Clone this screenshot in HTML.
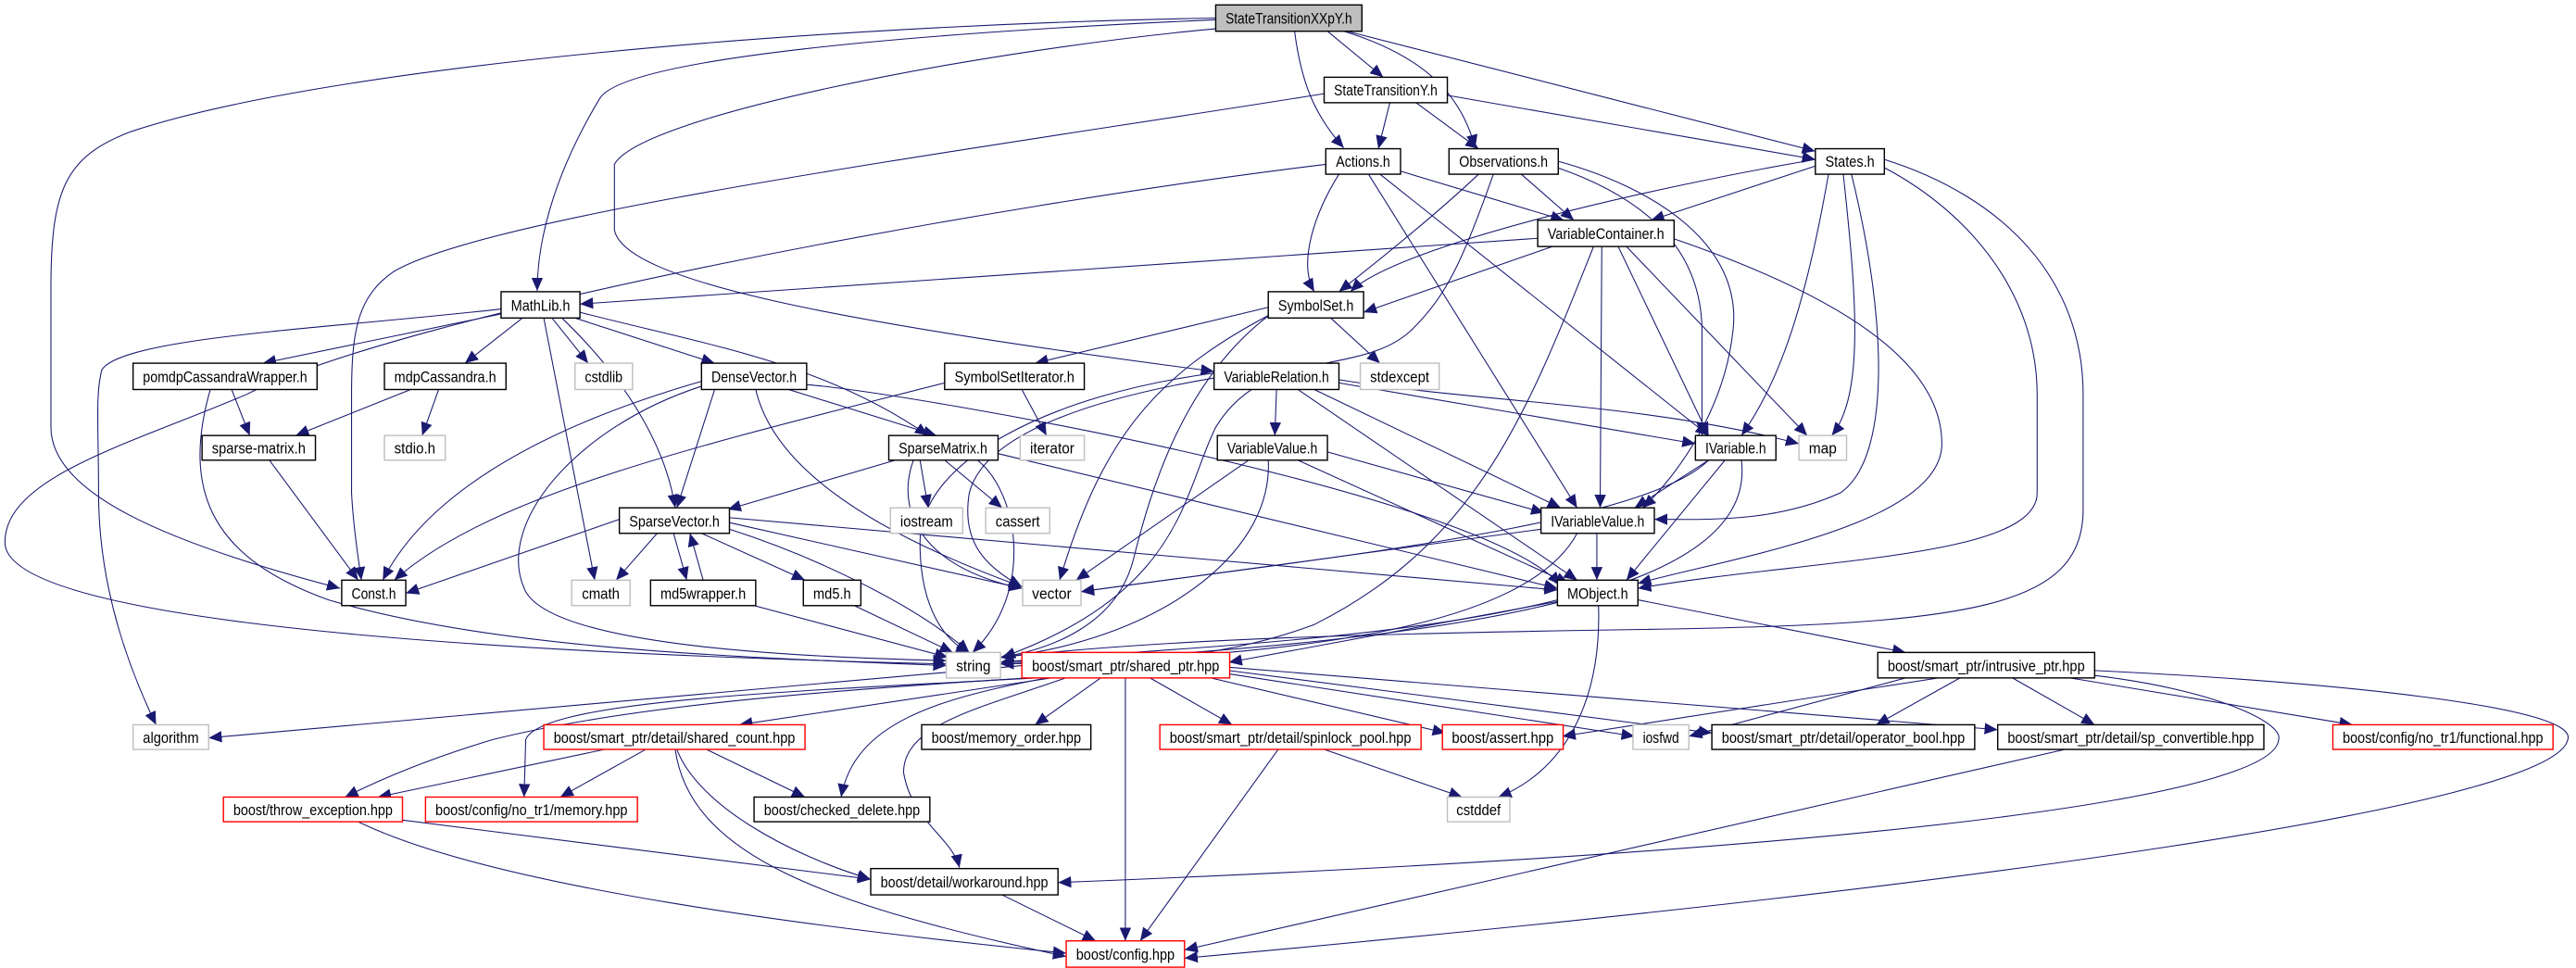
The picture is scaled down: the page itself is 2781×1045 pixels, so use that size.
<!DOCTYPE html>
<html><head><meta charset="utf-8"><style>
html,body{margin:0;padding:0;background:#fff;}
svg{display:block;}
text{font-family:"Liberation Sans",sans-serif;font-size:9.5px;fill:#000;}
</style></head><body>
<svg width="2781" height="1045" viewBox="0 0 1568 589" preserveAspectRatio="none" xmlns="http://www.w3.org/2000/svg">
<defs><marker id="a" markerUnits="userSpaceOnUse" markerWidth="8" markerHeight="7" refX="8" refY="3.5" orient="auto"><path d="M0,0 L8,3.5 L0,7 z" fill="#191970"/></marker></defs>
<rect width="1568" height="589" fill="#fff"/>
<g fill="none" stroke="#191970" stroke-width="0.6" marker-end="url(#a)">
<path d="M808,19 L842,47"/>
<path d="M788,19 C792,50 800,70 818,90"/>
<path d="M818,19 C870,35 890,60 898,90"/>
<path d="M820,19 L1105,92"/>
<path d="M740,12 C560,20 380,35 365,60 C335,110 327,150 327,177"/>
<path d="M740,11 C500,15 200,40 80,80 C40,95 31,115 31,175 L31,260 C31,300 100,330 207,358"/>
<path d="M745,17 C600,30 390,70 374,100 L374,140 C380,170 500,195 739,226"/>
<path d="M846,62.5 L839,90.5"/>
<path d="M862,62.5 L900,90.5"/>
<path d="M881,58 L1105,97"/>
<path d="M806,57 C600,90 300,130 240,165 C218,180 214,200 214,240 L214,300 C215,320 218,340 220,353"/>
<path d="M815,106 C800,130 790,160 800,177.5"/>
<path d="M852,104 L952,134"/>
<path d="M840,106 L1040,265"/>
<path d="M833,106 L960,309"/>
<path d="M807,100 C600,125 250,190 150,240 C80,270 3,290 3,330 C3,370 200,395 576,404"/>
<path d="M900,106 C880,125 850,150 815,177.5"/>
<path d="M926,106 L958,134"/>
<path d="M948,102 C1000,120 1035,150 1036,200 L1036,265"/>
<path d="M948,98 C1010,115 1060,150 1055,200 C1050,250 1020,290 1000,309"/>
<path d="M909,106 C890,160 880,180 860,200 C830,230 770,210 740,260 C720,300 720,360 610,400"/>
<path d="M1105,101 L1005,134"/>
<path d="M1105,97 C1000,115 850,150 822,177.5"/>
<path d="M1113,106 C1100,180 1085,230 1060,265"/>
<path d="M1122,106 C1130,180 1135,240 1115,265"/>
<path d="M1127,106 C1150,200 1150,280 1120,300 C1080,318 1040,316 1007,316"/>
<path d="M1147,102 C1200,130 1240,180 1240,240 L1240,300 C1240,340 1100,340 997,358"/>
<path d="M1147,97 C1220,120 1268,170 1268,240 L1268,310 C1268,370 1200,380 1000,383 C800,386 700,390 609,400"/>
<path d="M945,150 L830,190"/>
<path d="M985,150 L1040,265"/>
<path d="M990,150 L1100,265"/>
<path d="M975,150 L974,309"/>
<path d="M1018,145 C1120,180 1182,220 1182,270 C1182,320 1050,340 997,355"/>
<path d="M970,150 C930,250 900,330 800,380 C720,410 640,400 609,403"/>
<path d="M936,145 L353,185"/>
<path d="M310,190 L160,221"/>
<path d="M318,193.5 L283,221"/>
<path d="M336,193.5 L358,221"/>
<path d="M350,193.5 L435,221"/>
<path d="M353,190 C430,210 500,220 565,265"/>
<path d="M342,193.5 C380,230 405,270 411,309"/>
<path d="M331,193.5 L362,353"/>
<path d="M305,188 C200,200 75,205 62,225 C58,240 60,260 60,300 C60,360 80,410 95,441"/>
<path d="M772,187 L630,221"/>
<path d="M810,193.5 L840,221"/>
<path d="M772,192 C700,230 670,270 645,353"/>
<path d="M775,190 C720,230 700,300 690,340 C680,380 640,395 609,400"/>
<path d="M622,237 L637,265"/>
<path d="M575,233 C430,270 300,300 240,353"/>
<path d="M777,237 L776,265"/>
<path d="M815,233 L1032,270"/>
<path d="M800,237 L950,309"/>
<path d="M790,237 L960,353"/>
<path d="M815,231 C900,245 1000,245 1095,270"/>
<path d="M739,230 C680,240 600,260 590,300 C585,330 600,345 622,357"/>
<path d="M739,227 C640,240 560,280 560,330 C560,370 575,390 590,397"/>
<path d="M141,237 L152,265"/>
<path d="M128,237 C110,300 130,340 200,365 C300,395 450,400 576,405"/>
<path d="M250,237 L180,265"/>
<path d="M267,237 L257,265"/>
<path d="M164,280 L218,353"/>
<path d="M435,237 L412,309"/>
<path d="M480,237 L570,265"/>
<path d="M427,232 C330,260 260,300 233,353"/>
<path d="M460,237 C470,280 520,320 622,357"/>
<path d="M427,235 C350,260 300,320 320,360 C340,395 500,400 576,402"/>
<path d="M491,234 C560,240 900,300 950,356"/>
<path d="M545,280 L443,310"/>
<path d="M560,280 L565,309"/>
<path d="M575,280 L610,309"/>
<path d="M556,280 C545,310 560,345 622,358"/>
<path d="M595,280 C620,300 630,360 592,397"/>
<path d="M607.5,276 L948,358"/>
<path d="M808,275 L940,312"/>
<path d="M790,280 L955,355"/>
<path d="M760,280 L655,353"/>
<path d="M772,280 C775,340 700,390 609,400"/>
<path d="M1040,280 L995,309"/>
<path d="M1050,280 L990,353"/>
<path d="M1040,280 C1000,320 800,340 658,360"/>
<path d="M1060,280 C1070,360 900,390 609,404"/>
<path d="M377,316 L247,361"/>
<path d="M400,324.5 L375,353"/>
<path d="M410,324.5 L418,353"/>
<path d="M428,353 L420,324.5"/>
<path d="M427,324.5 L490,353"/>
<path d="M444,318 L622,358"/>
<path d="M444,322 C500,340 560,370 590,397"/>
<path d="M444,315 L948,359"/>
<path d="M459,368.5 L577,400"/>
<path d="M520,368.5 L580,397"/>
<path d="M972,324.5 L972,353"/>
<path d="M938,322 L658,360"/>
<path d="M960,324.5 C930,380 800,400 609,404"/>
<path d="M948,365 C850,390 700,395 609,403"/>
<path d="M948,366 L748,403"/>
<path d="M997,365 L1160,397"/>
<path d="M973,368.5 C975,430 950,470 912,485"/>
<path d="M622,405 L127,449"/>
<path d="M640,412.5 L450,441"/>
<path d="M635,412 C500,420 380,430 300,450 C260,462 230,475 210,485"/>
<path d="M640,412 C500,420 330,425 320,450 L319,485"/>
<path d="M670,412.5 L630,441"/>
<path d="M700,412.5 L750,441"/>
<path d="M737,412.5 L880,446"/>
<path d="M748,410 L995,448"/>
<path d="M748,408 L1042,446"/>
<path d="M748,406 L1216,444"/>
<path d="M640,412 C570,425 520,440 512,485"/>
<path d="M650,412 C600,430 550,440 550,470 C555,500 580,510 584,528"/>
<path d="M685,412.5 L685,572.5"/>
<path d="M778,456 L694,572.5"/>
<path d="M806,456 L890,485"/>
<path d="M1180,412.5 L951,448"/>
<path d="M1160,412.5 L1028,448"/>
<path d="M1193,412.5 L1142,441"/>
<path d="M1225,412.5 L1275,441"/>
<path d="M1260,412.5 L1432,441"/>
<path d="M1275,411 C1350,420 1390,440 1387,450 C1385,480 1200,515 644,537"/>
<path d="M1275,408 C1420,415 1570,430 1563,450 C1555,490 1200,540 721,583"/>
<path d="M1257,456 L721,578"/>
<path d="M368,456 L230,485"/>
<path d="M393,456 L341,485"/>
<path d="M430,456 L490,485"/>
<path d="M412,456 C425,490 480,520 530,535"/>
<path d="M411,456 C420,520 500,550 649,582"/>
<path d="M245,499 L530,535"/>
<path d="M218,500 C300,540 500,565 649,580"/>
<path d="M610,544.5 L667,572.5"/>
</g>
<g stroke-width="0.8">
<rect x="740" y="3" width="89" height="16" fill="#bfbfbf" stroke="#000"/>
<g fill="#fff" stroke="#000">
<rect x="806" y="47" width="75" height="15.5"/>
<rect x="807" y="90.5" width="45.5" height="15.5"/>
<rect x="882" y="90.5" width="66.5" height="15.5"/>
<rect x="1105" y="90.5" width="42" height="15.5"/>
<rect x="936" y="134" width="83" height="16"/>
<rect x="305" y="177.5" width="48" height="16"/>
<rect x="772" y="177.5" width="58" height="16"/>
<rect x="81" y="221" width="112" height="16"/>
<rect x="234" y="221" width="74" height="16"/>
<rect x="427" y="221" width="64" height="16"/>
<rect x="575" y="221" width="85" height="16"/>
<rect x="739" y="221" width="76" height="16"/>
<rect x="123" y="265" width="69" height="15"/>
<rect x="541" y="265" width="66.5" height="15"/>
<rect x="741" y="265" width="67" height="15"/>
<rect x="1032" y="265" width="49" height="15"/>
<rect x="377" y="309" width="67" height="15.5"/>
<rect x="938" y="309" width="69" height="15.5"/>
<rect x="208" y="353" width="39" height="15.5"/>
<rect x="396" y="353" width="64" height="15.5"/>
<rect x="489" y="353" width="35" height="15.5"/>
<rect x="948" y="353" width="49" height="15.5"/>
<rect x="1143" y="397" width="132" height="15.5"/>
<rect x="561" y="441" width="103" height="15"/>
<rect x="1042" y="441" width="160" height="15"/>
<rect x="1216" y="441" width="162" height="15"/>
<rect x="459" y="485" width="107" height="15"/>
<rect x="530" y="528.5" width="114" height="16"/>
</g>
<g fill="#fff" stroke="#bfbfbf">
<rect x="350" y="221" width="35" height="16"/>
<rect x="828" y="221" width="48" height="16"/>
<rect x="234" y="265" width="37" height="15"/>
<rect x="621" y="265" width="39" height="15"/>
<rect x="1095" y="265" width="29" height="15"/>
<rect x="542" y="309" width="44" height="15.5"/>
<rect x="600" y="309" width="39" height="15.5"/>
<rect x="348" y="353" width="35.5" height="15.5"/>
<rect x="622.5" y="353" width="35.5" height="15.5"/>
<rect x="576" y="397" width="33" height="15.5"/>
<rect x="81" y="441" width="46" height="15"/>
<rect x="994" y="441" width="34" height="15"/>
<rect x="881" y="485" width="38" height="15"/>
</g>
<g fill="#fff" stroke="#ff0000">
<rect x="622" y="397" width="126.5" height="15.5"/>
<rect x="331" y="441" width="159" height="15"/>
<rect x="706" y="441" width="159" height="15"/>
<rect x="878" y="441" width="73.5" height="15"/>
<rect x="1420" y="441" width="134" height="15"/>
<rect x="136" y="485" width="109" height="15"/>
<rect x="259" y="485" width="129" height="15"/>
<rect x="649" y="572.5" width="72" height="16"/>
</g>
</g>
<g text-anchor="middle" lengthAdjust="spacingAndGlyphs">
<text x="784.5" y="14.5" textLength="77" lengthAdjust="spacingAndGlyphs">StateTransitionXXpY.h</text>
<text x="843.5" y="58" textLength="63" lengthAdjust="spacingAndGlyphs">StateTransitionY.h</text>
<text x="829.7" y="101.5" textLength="33" lengthAdjust="spacingAndGlyphs">Actions.h</text>
<text x="915.2" y="101.5" textLength="54" lengthAdjust="spacingAndGlyphs">Observations.h</text>
<text x="1126" y="101.5" textLength="30" lengthAdjust="spacingAndGlyphs">States.h</text>
<text x="977.5" y="145.5" textLength="71" lengthAdjust="spacingAndGlyphs">VariableContainer.h</text>
<text x="329" y="189" textLength="36" lengthAdjust="spacingAndGlyphs">MathLib.h</text>
<text x="801" y="189" textLength="46" lengthAdjust="spacingAndGlyphs">SymbolSet.h</text>
<text x="137" y="232.5" textLength="100" lengthAdjust="spacingAndGlyphs">pomdpCassandraWrapper.h</text>
<text x="271" y="232.5" textLength="62" lengthAdjust="spacingAndGlyphs">mdpCassandra.h</text>
<text x="367.5" y="232.5" textLength="23" lengthAdjust="spacingAndGlyphs">cstdlib</text>
<text x="459" y="232.5" textLength="52" lengthAdjust="spacingAndGlyphs">DenseVector.h</text>
<text x="617.5" y="232.5" textLength="73" lengthAdjust="spacingAndGlyphs">SymbolSetIterator.h</text>
<text x="777" y="232.5" textLength="64" lengthAdjust="spacingAndGlyphs">VariableRelation.h</text>
<text x="852" y="232.5" textLength="36" lengthAdjust="spacingAndGlyphs">stdexcept</text>
<text x="157.5" y="276" textLength="57" lengthAdjust="spacingAndGlyphs">sparse-matrix.h</text>
<text x="252.5" y="276" textLength="25" lengthAdjust="spacingAndGlyphs">stdio.h</text>
<text x="574" y="276" textLength="54" lengthAdjust="spacingAndGlyphs">SparseMatrix.h</text>
<text x="640.5" y="276" textLength="27" lengthAdjust="spacingAndGlyphs">iterator</text>
<text x="774.5" y="276" textLength="55" lengthAdjust="spacingAndGlyphs">VariableValue.h</text>
<text x="1056.5" y="276" textLength="37" lengthAdjust="spacingAndGlyphs">IVariable.h</text>
<text x="1109.5" y="276" textLength="17" lengthAdjust="spacingAndGlyphs">map</text>
<text x="410.5" y="320.5" textLength="55" lengthAdjust="spacingAndGlyphs">SparseVector.h</text>
<text x="564" y="320.5" textLength="32" lengthAdjust="spacingAndGlyphs">iostream</text>
<text x="619.5" y="320.5" textLength="27" lengthAdjust="spacingAndGlyphs">cassert</text>
<text x="972.5" y="320.5" textLength="57" lengthAdjust="spacingAndGlyphs">IVariableValue.h</text>
<text x="227.5" y="364.5" textLength="27" lengthAdjust="spacingAndGlyphs">Const.h</text>
<text x="365.7" y="364.5" textLength="23" lengthAdjust="spacingAndGlyphs">cmath</text>
<text x="428" y="364.5" textLength="52" lengthAdjust="spacingAndGlyphs">md5wrapper.h</text>
<text x="506.5" y="364.5" textLength="23" lengthAdjust="spacingAndGlyphs">md5.h</text>
<text x="640.2" y="364.5" textLength="24" lengthAdjust="spacingAndGlyphs">vector</text>
<text x="972.5" y="364.5" textLength="37" lengthAdjust="spacingAndGlyphs">MObject.h</text>
<text x="592.5" y="408.5" textLength="21" lengthAdjust="spacingAndGlyphs">string</text>
<text x="685.2" y="408.5" textLength="114" lengthAdjust="spacingAndGlyphs">boost/smart_ptr/shared_ptr.hpp</text>
<text x="1209" y="408.5" textLength="120" lengthAdjust="spacingAndGlyphs">boost/smart_ptr/intrusive_ptr.hpp</text>
<text x="104" y="452" textLength="34" lengthAdjust="spacingAndGlyphs">algorithm</text>
<text x="410.5" y="452" textLength="147" lengthAdjust="spacingAndGlyphs">boost/smart_ptr/detail/shared_count.hpp</text>
<text x="612.5" y="452" textLength="91" lengthAdjust="spacingAndGlyphs">boost/memory_order.hpp</text>
<text x="785.5" y="452" textLength="147" lengthAdjust="spacingAndGlyphs">boost/smart_ptr/detail/spinlock_pool.hpp</text>
<text x="914.7" y="452" textLength="62" lengthAdjust="spacingAndGlyphs">boost/assert.hpp</text>
<text x="1011" y="452" textLength="22" lengthAdjust="spacingAndGlyphs">iosfwd</text>
<text x="1122" y="452" textLength="148" lengthAdjust="spacingAndGlyphs">boost/smart_ptr/detail/operator_bool.hpp</text>
<text x="1297" y="452" textLength="150" lengthAdjust="spacingAndGlyphs">boost/smart_ptr/detail/sp_convertible.hpp</text>
<text x="1487" y="452" textLength="122" lengthAdjust="spacingAndGlyphs">boost/config/no_tr1/functional.hpp</text>
<text x="190.5" y="496" textLength="97" lengthAdjust="spacingAndGlyphs">boost/throw_exception.hpp</text>
<text x="323.5" y="496" textLength="117" lengthAdjust="spacingAndGlyphs">boost/config/no_tr1/memory.hpp</text>
<text x="512.5" y="496" textLength="95" lengthAdjust="spacingAndGlyphs">boost/checked_delete.hpp</text>
<text x="900" y="496" textLength="27" lengthAdjust="spacingAndGlyphs">cstddef</text>
<text x="587" y="540" textLength="102" lengthAdjust="spacingAndGlyphs">boost/detail/workaround.hpp</text>
<text x="685" y="584" textLength="60" lengthAdjust="spacingAndGlyphs">boost/config.hpp</text>
</g>
</svg>
</body></html>
